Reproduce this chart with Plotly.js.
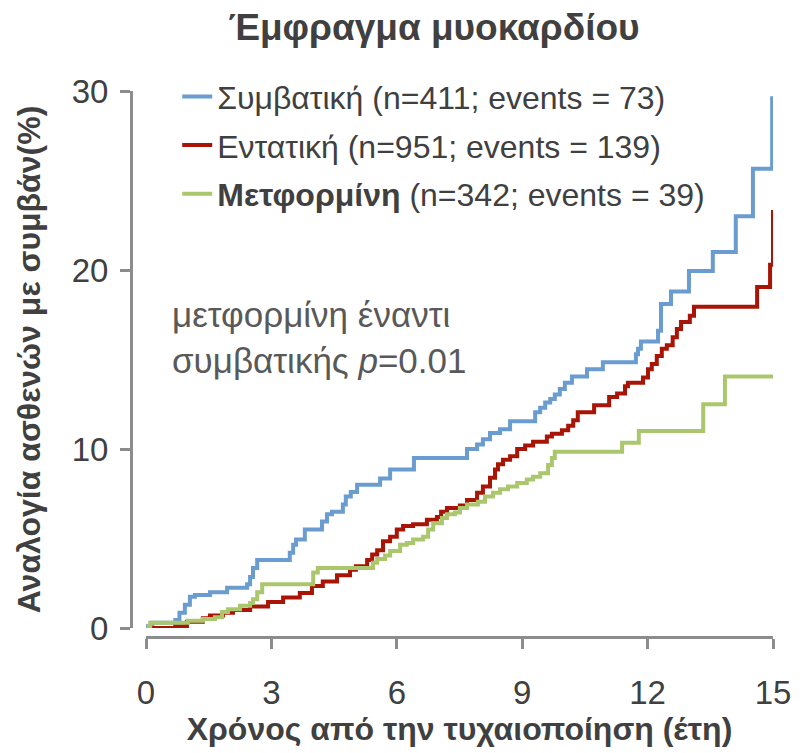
<!DOCTYPE html>
<html>
<head>
<meta charset="utf-8">
<script src="https://cdn.plot.ly/plotly-3.0.1.min.js"></script>
<style>html,body{margin:0;padding:0;background:#fff;}#chart{width:800px;height:753px;}</style>
</head>
<body>
<div id="chart"></div>
<script>
// Συμβατική (conventional)
const convX = [0,0.15,0.7,0.8,0.93,1.05,1.17,1.53,1.94,2.42,2.49,2.56,2.66,3.44,3.52,3.59,3.8,4.21,4.33,4.45,4.71,4.78,4.9,5.05,5.6,5.84,6.41,7.68,7.92,8.06,8.23,8.47,8.71,9.31,9.43,9.55,9.67,9.78,9.9,10.02,10.19,10.55,10.93,11.72,11.77,11.84,12.25,12.32,12.56,12.99,13.56,14.11,14.52,14.98,15];
const convY = [0.1,0.3,0.45,0.85,1.3,1.75,1.85,2.0,2.25,2.45,2.85,3.35,3.8,4.2,4.65,4.95,5.5,5.95,6.35,6.5,6.9,7.35,7.6,8.0,8.35,8.85,9.5,10.0,10.25,10.55,10.9,11.1,11.55,12.05,12.3,12.6,12.8,13.05,13.35,13.7,14.05,14.45,14.85,15.3,15.6,16.0,16.6,18.1,18.8,19.95,21.0,23.0,25.65,29.6,29.6];
// Εντατική (intensive)
const intX = [0.05,0.7,0.98,1.36,1.53,1.84,2.08,2.49,2.92,3.28,3.68,3.97,4.23,4.57,4.88,5.02,5.29,5.41,5.53,5.67,5.84,6.0,6.15,6.39,6.72,6.96,7.06,7.2,7.51,7.68,7.92,8.06,8.23,8.35,8.42,8.54,8.71,8.88,9.07,9.26,9.59,9.71,9.95,10.1,10.22,10.33,10.72,11.08,11.27,11.46,11.53,11.89,12.01,12.1,12.22,12.34,12.46,12.6,12.7,12.8,13.01,13.11,14.62,14.93,15.0];
const intY = [0,0.1,0.35,0.55,0.7,0.85,1.0,1.2,1.45,1.7,1.95,2.35,2.6,2.95,3.25,3.45,3.8,4.1,4.35,4.85,5.1,5.5,5.7,5.8,6.05,6.2,6.5,6.7,6.85,7.15,7.55,7.9,8.4,8.85,9.15,9.4,9.6,10.0,10.2,10.4,10.7,10.85,11.05,11.3,11.6,12.05,12.45,12.9,13.1,13.5,13.7,14.0,14.45,14.75,15.2,15.6,15.8,16.25,16.7,17.1,17.45,17.95,19.05,20.3,23.35];
// Μετφορμίνη (metformin)
const metX = [0.02,0.1,1.0,1.36,1.65,1.82,1.96,2.25,2.49,2.56,2.66,2.78,4.0,4.11,5.43,5.53,5.72,5.84,6.08,6.24,6.39,6.63,6.75,6.87,7.08,7.2,7.39,7.51,7.68,7.94,8.11,8.3,8.47,8.66,8.88,9.11,9.26,9.43,9.62,9.71,9.78,11.39,11.79,13.33,13.85,15];
const metY = [0.05,0.3,0.4,0.5,0.6,0.9,1.05,1.25,1.4,1.6,2.0,2.45,3.1,3.35,3.65,3.85,4.05,4.3,4.65,4.75,4.95,5.1,5.5,5.85,6.15,6.35,6.45,6.7,6.9,7.05,7.35,7.55,7.75,7.9,8.1,8.3,8.45,8.65,9.1,9.5,9.85,10.35,11.0,12.5,14.05,14.05];

const seriesNames = ["Συμβατική (n=411; events = 73)", "Εντατική (n=951; events = 139)", "<b>Μετφορμίνη</b> (n=342; events = 39)"];
const seriesColors = ["#6a9ccf", "#a81405", "#abc76d"];
const xTicks = [0,3,6,9,12,15];
const yTicks = [0,10,20,30];

const FONT = "Liberation Sans, Arial, sans-serif";
const TXT = "#404040";
const AX = "#8c8c8c";

const traces = [
  {x: convX, y: convY, name: seriesNames[0], legendgroup: "a"},
  {x: intX, y: intY, name: seriesNames[1], legendgroup: "b"},
  {x: metX, y: metY, name: seriesNames[2], legendgroup: "c"}
].map((t, i) => Object.assign(t, {
  type: "scatter", mode: "lines",
  line: {shape: "hv", width: 4, color: seriesColors[i]},
  hoverinfo: "skip"
}));

const layout = {
  width: 800, height: 753,
  margin: {l: 131, r: 27, t: 91, b: 116},
  paper_bgcolor: "#fff", plot_bgcolor: "#fff",
  font: {family: FONT, color: TXT, size: 32},
  title: {text: "<b>Έμφραγμα μυοκαρδίου</b>", font: {family: FONT, size: 37, color: TXT},
          x: 434/800, xanchor: "center", xref: "container", y: 1 - 27/753, yanchor: "middle", yref: "container"},
  showlegend: true,
  legend: {x: 0.072, y: 1.04, xanchor: "left", yanchor: "top", font: {size: 32, color: TXT},
           bgcolor: "rgba(0,0,0,0)", tracegroupgap: 4, traceorder: "grouped"},
  xaxis: {
    range: [0, 15], domain: [15/642, 1], anchor: "free", position: 0,
    tickvals: xTicks, ticktext: xTicks.map(String),
    showline: true, linecolor: AX, linewidth: 3,
    ticks: "outside", ticklen: 10, tickwidth: 3, tickcolor: AX,
    showgrid: false, zeroline: false,
    tickfont: {size: 33, color: TXT}, ticklabelstandoff: 15,
    title: {text: "<b>Χρόνος από την τυχαιοποίηση (έτη)</b>", font: {size: 32, color: TXT}, standoff: 6}
  },
  yaxis: {
    range: [0, 30], domain: [9/546, 1], anchor: "free", position: 0,
    tickvals: yTicks, ticktext: yTicks.map(String),
    showline: true, linecolor: AX, linewidth: 3,
    ticks: "outside", ticklen: 10, tickwidth: 3, tickcolor: AX,
    showgrid: false, zeroline: false,
    tickfont: {size: 33, color: TXT}, ticklabelstandoff: 5,
    title: {text: "<b>Αναλογία ασθενών με συμβάν(%)</b>", font: {size: 32, color: TXT}, standoff: 20}
  },
  annotations: [{
    xref: "paper", yref: "paper", x: 0.06, y: 0.548, xanchor: "left", yanchor: "middle", align: "left",
    text: "μετφορμίνη έναντι<br>συμβατικής <i>p</i>=0.01", showarrow: false,
    font: {family: FONT, size: 35, color: "#595959"}
  }]
};

Plotly.newPlot("chart", traces, layout, {staticPlot: true, displayModeBar: false});
</script>
</body>
</html>
